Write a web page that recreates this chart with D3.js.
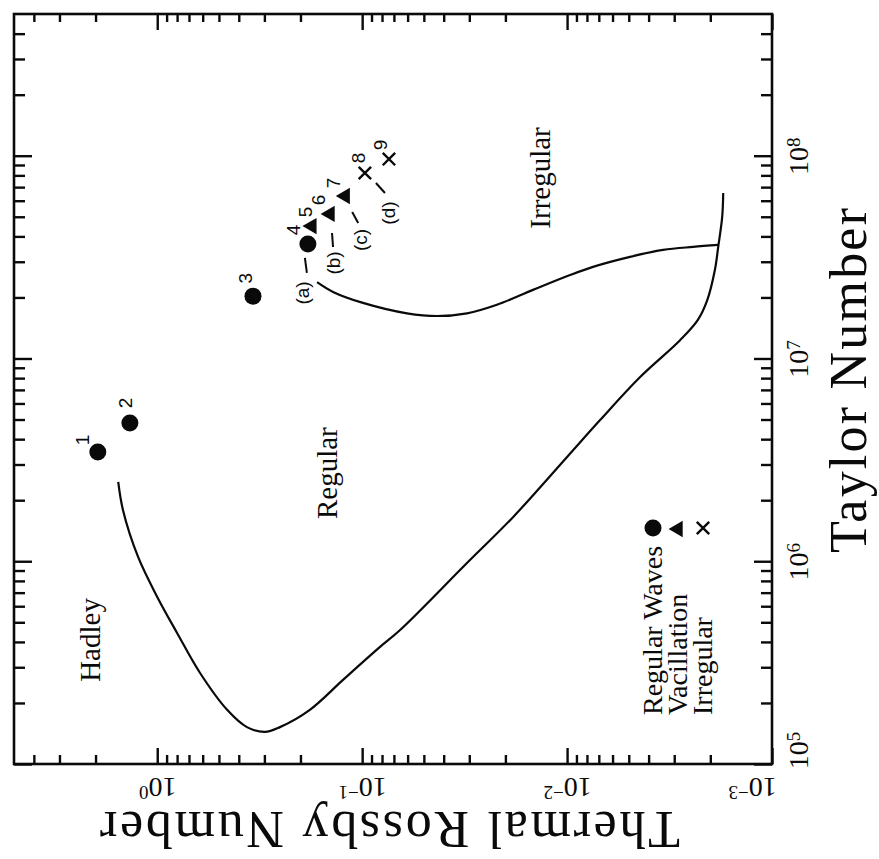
<!DOCTYPE html>
<html>
<head>
<meta charset="utf-8">
<script src="https://cdn.jsdelivr.net/npm/d3@7"></script>
<style>
  html, body { margin: 0; padding: 0; background: #fff; }
  svg { display: block; }
</style>
</head>
<body>
<svg id="chart" width="879" height="859"></svg>
<script>
// ---- Regime diagram of a rotating annulus: Thermal Rossby number vs Taylor number ----

// Experiments (numbered runs) and their flow type
const runIds      = ["1", "2", "3", "4", "5", "6", "7", "8", "9"];
const runType     = ["regular", "regular", "regular", "regular", "vacillation", "vacillation", "vacillation", "irregular", "irregular"];
const runTaylor   = [3.46e6, 4.81e6, 2.03e7, 3.67e7, 4.55e7, 5.22e7, 6.4e7, 8.22e7, 9.63e7];
const runRossby   = [1.95, 1.36, 0.341, 0.184, 0.176, 0.1435, 0.121, 0.097, 0.074];

// Lower transition curve (Hadley / Regular boundary, continuing to the corner)
const lowerTaylor = [2.46e6, 1.79e6, 1.05e6, 6.67e5, 4.43e5, 2.81e5, 1.85e5, 1.52e5, 1.44e5, 1.52e5, 1.85e5,
                     2.6e5, 3.78e5, 4.58e5, 9.8e5, 1.65e6, 3.27e6, 4.97e6, 8.1e6, 1.23e7, 1.55e7, 1.94e7,
                     2.73e7, 3.55e7, 4.99e7, 6.55e7];
const lowerRossby = [1.55, 1.47, 1.24, 1.0, 0.80, 0.618, 0.456, 0.365, 0.298, 0.252, 0.18,
                     0.124, 0.0818, 0.0653, 0.0308, 0.01836, 0.0100, 0.0069, 0.0044, 0.00281, 0.0023, 0.00207,
                     0.0019, 0.00183, 0.00175, 0.00173];

// Upper transition curve (Regular / Irregular boundary)
const upperTaylor = [2.38e7, 2.13e7, 1.88e7, 1.67e7, 1.62e7, 1.67e7, 1.84e7, 2.18e7, 2.58e7, 2.83e7,
                     3.17e7, 3.43e7, 3.55e7, 3.63e7];
const upperRossby = [0.166, 0.1387, 0.0991, 0.0604, 0.0431, 0.0308, 0.022, 0.01466, 0.00967, 0.00747,
                     0.00493, 0.0034, 0.00243, 0.00183];

// Regime names and where they sit
const regimeNames  = ["Hadley", "Regular", "Irregular"];
const regimeTaylor = [4.09e5, 2.72e6, 7.77e7];
const regimeRossby = [2.13, 0.1484, 0.01355];

// Bracketed run groups, attached to a run
const groupNames = ["(a)", "(b)", "(c)", "(d)"];
const groupRun   = ["4", "6", "7", "9"];

// Axis ticks
const taylorTicks = [1e5, 1e6, 1e7, 1e8];
const rossbyTicks = [1, 1e-1, 1e-2, 1e-3];

// Legend
const legendLabels = ["Regular Waves", "Vacillation", "Irregular"];
const legendTypes  = ["regular", "vacillation", "irregular"];

// ---- layout / style ----
const ink = "#0a0a0a";
const serif = "'Liberation Serif', 'Times New Roman', serif";
const sans = "'Liberation Sans', Arial, sans-serif";
const frame = { left: 14, right: 772, top: 14, bottom: 764 };

// per-label nudges (screen px) for run numbers
const runLabelNudge = {
  "1": [-15, -12], "2": [-5, -20], "3": [-8, -18], "4": [-15, -14], "5": [-7, -13],
  "6": [-12, -13], "7": [-12, -12], "8": [-7, -15], "9": [-9, -14]
};
// group label leader lines and text, relative to the run marker
const groupStyle = {
  "(a)": { line: [[-3, 14], [-1, 29]], text: [-6, 49] },
  "(b)": { line: [[2, 20], [3, 34]],   text: [3, 50] },
  "(c)": { line: [[7, 17], [13, 28]],  text: [15, 45] },
  "(d)": { line: [[-13, 24], [-4, 34]], text: [-1, 54] }
};

const svg = d3.select("#chart");

// The diagram is laid out turned a quarter turn: Rossby runs right-to-left along
// the bottom, Taylor runs upward along the right side.
const x = d3.scaleLog().domain([5, 1e-3]).range([frame.left, frame.right]);
const y = d3.scaleLog().domain([1e5, 5e8]).range([frame.bottom, frame.top]);

const isPow10 = v => Math.abs(Math.log10(v) - Math.round(Math.log10(v))) < 1e-9;
const inside = (s, v) => {
  const [a, b] = d3.extent(s.domain());
  return v > a * 1.0001 && v < b * 0.9999;
};
const taylorMinor = y.ticks().filter(v => !isPow10(v) && inside(y, v));
const rossbyMinor = x.ticks().filter(v => !isPow10(v) && inside(x, v));

function tickAxis(axisFn, scale, values, size, transform) {
  const g = svg.append("g").attr("transform", transform)
    .call(axisFn(scale).tickValues(values).tickSizeInner(-size).tickSizeOuter(0).tickFormat(() => ""));
  g.select(".domain").remove();
  g.selectAll(".tick text").remove();
  g.selectAll(".tick line").attr("stroke", ink).attr("stroke-width", 2.4);
  return g;
}

// Taylor axis ticks (right) and mirror (left)
const gRightMajor = tickAxis(d3.axisRight, y, taylorTicks, 18, `translate(${frame.right},0)`);
tickAxis(d3.axisRight, y, taylorMinor, 11, `translate(${frame.right},0)`);
tickAxis(d3.axisLeft, y, taylorTicks, 18, `translate(${frame.left},0)`);
tickAxis(d3.axisLeft, y, taylorMinor, 11, `translate(${frame.left},0)`);

// Rossby axis ticks (bottom) and mirror (top)
const gBottomMajor = tickAxis(d3.axisBottom, x, rossbyTicks, 16, `translate(0,${frame.bottom})`);
tickAxis(d3.axisBottom, x, rossbyMinor, 9, `translate(0,${frame.bottom})`);
tickAxis(d3.axisTop, x, rossbyTicks, 16, `translate(0,${frame.top})`);
tickAxis(d3.axisTop, x, rossbyMinor, 8, `translate(0,${frame.top})`);

// power-of-ten label with superscript exponent
function powerLabel(text, v) {
  const e = Math.round(Math.log10(v));
  text.append("tspan").text("10");
  text.append("tspan").attr("dy", "-0.42em").attr("font-size", "0.68em")
    .text(e < 0 ? "\u2212" + (-e) : String(e));
}

// Taylor tick labels, reading upward
gRightMajor.selectAll(".tick").each(function (d) {
  const shift = d === y.domain()[0] ? -14 : 0;
  const t = d3.select(this).append("text")
    .attr("transform", `translate(36,${shift}) rotate(-90)`)
    .attr("text-anchor", "middle")
    .attr("font-family", serif).attr("font-size", 28).attr("fill", ink);
  powerLabel(t, d);
});

// Rossby tick labels, upside down
gBottomMajor.selectAll(".tick").each(function (d) {
  const shift = d === x.domain()[1] ? -20 : 0;
  const t = d3.select(this).append("text")
    .attr("transform", `translate(${shift},14) rotate(180)`)
    .attr("text-anchor", "middle")
    .attr("font-family", serif).attr("font-size", 28).attr("fill", ink);
  powerLabel(t, d);
});

// frame
svg.append("rect")
  .attr("x", frame.left).attr("y", frame.top)
  .attr("width", frame.right - frame.left).attr("height", frame.bottom - frame.top)
  .attr("fill", "none").attr("stroke", ink).attr("stroke-width", 2.6);

// axis titles
svg.append("text")
  .attr("transform", `translate(866,553) rotate(-90)`)
  .attr("text-anchor", "start")
  .attr("font-family", serif).attr("font-size", 52).attr("fill", ink)
  .attr("textLength", 345).attr("lengthAdjust", "spacing")
  .text("Taylor Number");

svg.append("text")
  .attr("transform", `translate(390,812) rotate(180)`)
  .attr("text-anchor", "middle")
  .attr("font-family", serif).attr("font-size", 52).attr("fill", ink)
  .attr("textLength", 580).attr("lengthAdjust", "spacing")
  .text("Thermal Rossby Number");

// transition curves
const curveLine = d3.line()
  .x(d => x(d[1])).y(d => y(d[0]))
  .curve(d3.curveCatmullRom.alpha(0.5));

svg.append("path")
  .datum(d3.zip(lowerTaylor, lowerRossby))
  .attr("d", curveLine)
  .attr("fill", "none").attr("stroke", ink).attr("stroke-width", 2.2);

svg.append("path")
  .datum(d3.zip(upperTaylor, upperRossby))
  .attr("d", curveLine)
  .attr("fill", "none").attr("stroke", ink).attr("stroke-width", 2.2);

// regime names
regimeNames.forEach((name, i) => {
  svg.append("text")
    .attr("transform", `translate(${x(regimeRossby[i])},${y(regimeTaylor[i])}) rotate(-90)`)
    .attr("text-anchor", "middle").attr("dy", "0.33em")
    .attr("font-family", serif).attr("font-size", 29).attr("fill", ink)
    .text(name);
});

// marker drawing
const triPath = d3.symbol(d3.symbolTriangle, 115)();
function drawMarker(g, type, cx, cy) {
  if (type === "regular") {
    g.append("circle").attr("cx", cx).attr("cy", cy).attr("r", 8.5).attr("fill", ink);
  } else if (type === "vacillation") {
    g.append("path").attr("d", triPath)
      .attr("transform", `translate(${cx},${cy + 1}) rotate(-90)`).attr("fill", ink);
  } else {
    const h = 6.2;
    g.append("path")
      .attr("d", `M${cx - h},${cy - h}L${cx + h},${cy + h}M${cx - h},${cy + h}L${cx + h},${cy - h}`)
      .attr("stroke", ink).attr("stroke-width", 2.4).attr("fill", "none");
  }
}

// runs
const gRuns = svg.append("g");
runIds.forEach((id, i) => {
  const cx = x(runRossby[i]), cy = y(runTaylor[i]);
  drawMarker(gRuns, runType[i], cx, cy);
  const [dx, dy] = runLabelNudge[id];
  gRuns.append("text")
    .attr("transform", `translate(${cx + dx},${cy + dy}) rotate(-90)`)
    .attr("text-anchor", "middle").attr("dy", "0.35em")
    .attr("font-family", sans).attr("font-size", 19).attr("fill", ink)
    .text(id);
});

// run group labels with leader lines
groupNames.forEach((name, i) => {
  const k = runIds.indexOf(groupRun[i]);
  const cx = x(runRossby[k]), cy = y(runTaylor[k]);
  const st = groupStyle[name];
  gRuns.append("line")
    .attr("x1", cx + st.line[0][0]).attr("y1", cy + st.line[0][1])
    .attr("x2", cx + st.line[1][0]).attr("y2", cy + st.line[1][1])
    .attr("stroke", ink).attr("stroke-width", 2);
  gRuns.append("text")
    .attr("transform", `translate(${cx + st.text[0]},${cy + st.text[1]}) rotate(-90)`)
    .attr("text-anchor", "middle").attr("dy", "0.35em")
    .attr("font-family", sans).attr("font-size", 19).attr("fill", ink)
    .text(name);
});

// legend
const gLegend = svg.append("g");
legendLabels.forEach((label, i) => {
  const lx = 653 + i * 25;
  gLegend.append("text")
    .attr("transform", `translate(${lx},715) rotate(-90)`)
    .attr("text-anchor", "start").attr("dy", "0.33em")
    .attr("font-family", serif).attr("font-size", 28).attr("fill", ink)
    .text(label);
  drawMarker(gLegend, legendTypes[i], lx, 528);
});
</script>
</body>
</html>
